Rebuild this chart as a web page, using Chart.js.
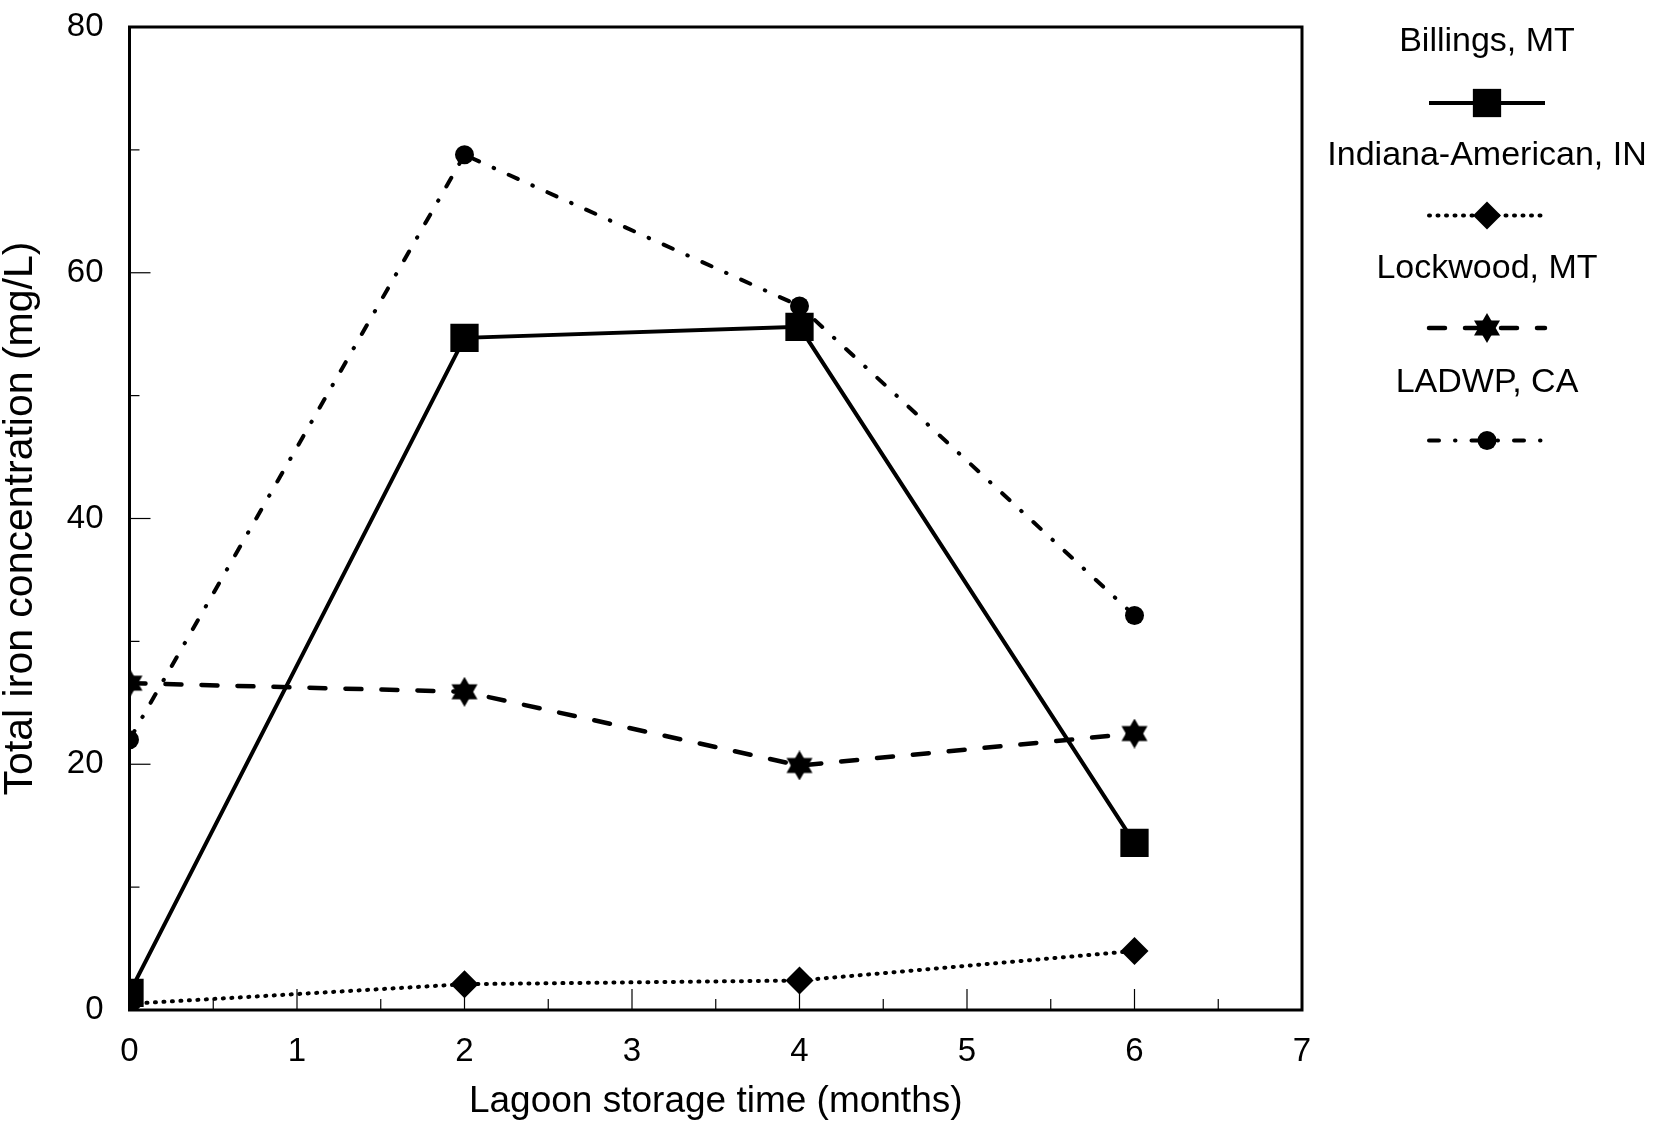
<!DOCTYPE html>
<html>
<head>
<meta charset="utf-8">
<script src="https://cdn.jsdelivr.net/npm/chart.js@4.4.1/dist/chart.umd.min.js"></script>
<style>
  html, body { margin: 0; padding: 0; background: #fff; }
  #caixa { width: 1661px; height: 1128px; }
</style>
</head>
<body>
<div id="caixa"><canvas id="graficoFerro"></canvas></div>
<script>
// meses de armazenamento na lagoa
const meses = [0, 2, 4, 6];

// ferro total (mg/L) por estação
const billings = [1.4, 54.7, 55.6, 13.6];
const indiana = [0.5, 2.1, 2.4, 4.8];
const lockwood = [26.6, 25.9, 19.9, 22.5];
const ladwp = [22.0, 69.6, 57.3, 32.1];

const nomes = ["Billings, MT", "Indiana-American, IN", "Lockwood, MT", "LADWP, CA"];

// marcas principais dos eixos
const marcasX = [0, 1, 2, 3, 4, 5, 6, 7];
const marcasY = [0, 20, 40, 60, 80];

const fonte = '"Liberation Sans", Arial, sans-serif';

// estrela de seis pontas (Chart.js nao tem esse simbolo)
function criarEstrela(tam) {
  const c = document.createElement('canvas');
  c.width = tam;
  c.height = tam;
  const g = c.getContext('2d');
  const r = tam / 2;
  g.fillStyle = '#000';
  [0, Math.PI].forEach(giro => {
    g.beginPath();
    for (let k = 0; k < 3; k++) {
      const ang = giro - Math.PI / 2 + k * 2 * Math.PI / 3;
      const px = r + r * Math.cos(ang);
      const py = r + r * Math.sin(ang);
      if (k === 0) g.moveTo(px, py); else g.lineTo(px, py);
    }
    g.closePath();
    g.fill();
  });
  return c;
}

const pontos = vals => meses.map((m, i) => ({ x: m, y: vals[i] }));

// moldura fechada + marcas internas (maiores e menores)
const moldura = {
  id: 'moldura',
  afterDatasetsDraw(chart) {
    const { ctx, chartArea: a, scales: { x, y } } = chart;
    ctx.save();
    ctx.strokeStyle = '#000';
    ctx.lineWidth = 1.2;
    const risco = (x1, y1, x2, y2) => {
      ctx.beginPath(); ctx.moveTo(x1, y1); ctx.lineTo(x2, y2); ctx.stroke();
    };
    marcasY.forEach((v, i) => {
      const py = y.getPixelForValue(v);
      risco(a.left, py, a.left + 21, py);
      if (i < marcasY.length - 1) {
        const pm = y.getPixelForValue((v + marcasY[i + 1]) / 2);
        risco(a.left, pm, a.left + 10, pm);
      }
    });
    marcasX.forEach((v, i) => {
      const px = x.getPixelForValue(v);
      risco(px, a.bottom, px, a.bottom - 21);
      if (i < marcasX.length - 1) {
        const pm = x.getPixelForValue((v + marcasX[i + 1]) / 2);
        risco(pm, a.bottom, pm, a.bottom - 11);
      }
    });
    ctx.lineWidth = 3;
    ctx.strokeRect(a.left, a.top, a.right - a.left, a.bottom - a.top);
    ctx.restore();
  }
};

// legenda ao lado: nome em cima, amostra da linha embaixo
const legendaLado = {
  id: 'legendaLado',
  afterDraw(chart) {
    const ctx = chart.ctx;
    const cx = 1487;
    ctx.save();
    chart.data.datasets.forEach((ds, i) => {
      const yTexto = 42 + i * 113.5;
      const yLinha = 103 + i * 112.5;
      ctx.fillStyle = '#000';
      ctx.font = '34px ' + fonte;
      ctx.textAlign = 'center';
      ctx.textBaseline = 'middle';
      ctx.fillText(ds.label, cx, yTexto);

      ctx.beginPath();
      ctx.setLineDash(ds.borderDash || []);
      ctx.lineCap = ds.borderCapStyle || 'butt';
      ctx.lineWidth = ds.borderWidth;
      ctx.strokeStyle = '#000';
      ctx.moveTo(cx - 58, yLinha);
      ctx.lineTo(cx + 58, yLinha);
      ctx.stroke();
      ctx.setLineDash([]);
      ctx.fillStyle = '#000';
      Chart.helpers.drawPoint(ctx, {
        pointStyle: ds.pointStyle, radius: ds.pointRadius, borderWidth: 0, rotation: 0
      }, cx, yLinha);
    });
    ctx.restore();
  }
};

const estrela = criarEstrela(30);

const conjuntos = [
  { label: nomes[0], data: pontos(billings), borderWidth: 4, borderDash: [],
    pointStyle: 'rect', pointRadius: 20 },
  { label: nomes[1], data: pontos(indiana), borderWidth: 4, borderDash: [1, 7.5],
    borderCapStyle: 'round', pointStyle: 'rectRot', pointRadius: 14 },
  { label: nomes[2], data: pontos(lockwood), borderWidth: 4.5, borderDash: [16, 20],
    borderCapStyle: 'round', pointStyle: estrela, pointRadius: 15 },
  { label: nomes[3], data: pontos(ladwp), borderWidth: 4, borderDash: [10, 16, 0.5, 16],
    borderCapStyle: 'round', pointStyle: 'circle', pointRadius: 9.5 }
].map(d => Object.assign({
  borderColor: '#000', backgroundColor: '#000', pointBackgroundColor: '#000',
  pointBorderWidth: 0, pointHoverRadius: d.pointRadius, tension: 0, clip: 0
}, d));

new Chart(document.getElementById('graficoFerro'), {
  type: 'line',
  data: { datasets: conjuntos },
  plugins: [moldura, legendaLado],
  options: {
    responsive: true,
    maintainAspectRatio: false,
    devicePixelRatio: 1,
    animation: false,
    events: [],
    layout: { padding: { top: 27, right: 359, left: 0, bottom: 0 } },
    plugins: { legend: { display: false }, tooltip: { enabled: false } },
    scales: {
      x: {
        type: 'linear', min: 0, max: 7,
        afterBuildTicks: s => { s.ticks = marcasX.map(v => ({ value: v })); },
        afterFit: s => { s.height = 118; s.paddingLeft = 0; s.paddingRight = 0; },
        grid: { display: false, drawTicks: false },
        border: { display: false },
        ticks: { padding: 22, color: '#000', font: { family: fonte, size: 33 } },
        title: {
          display: true, text: 'Lagoon storage time (months)', color: '#000',
          font: { family: fonte, size: 37 }, padding: { top: 0, bottom: 4 }
        }
      },
      y: {
        min: 0, max: 80,
        afterBuildTicks: s => { s.ticks = marcasY.map(v => ({ value: v })); },
        afterFit: s => { s.width = 129.5; s.paddingTop = 0; s.paddingBottom = 0; },
        grid: { display: false, drawTicks: false },
        border: { display: false },
        ticks: { padding: 26, color: '#000', font: { family: fonte, size: 33 } },
        title: {
          display: true, text: 'Total iron concentration (mg/L)', color: '#000',
          font: { family: fonte, size: 41, lineHeight: 1 }, padding: { top: 0, bottom: 0 }
        }
      }
    }
  }
});
</script>
</body>
</html>
